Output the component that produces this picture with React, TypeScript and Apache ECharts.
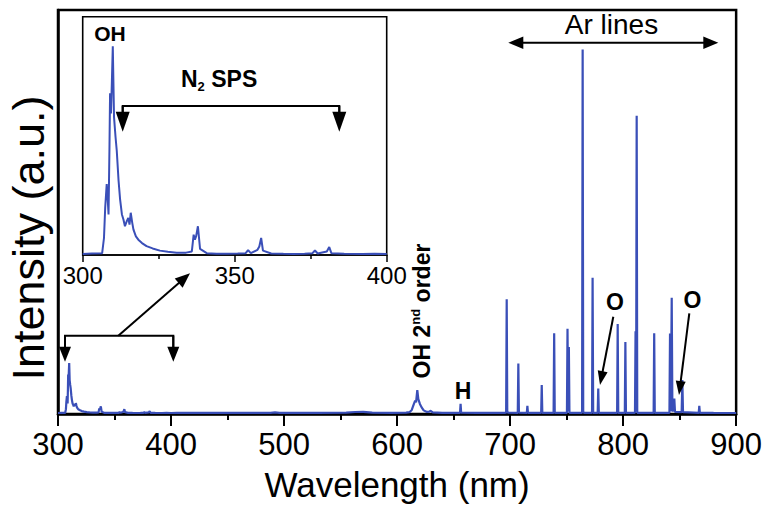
import React, { useEffect, useRef } from "react";
import * as echarts from "echarts";

// Emission spectrum: [wavelength (nm), intensity (a.u.)]
const uvBand: [number, number][] = [
  [300, 0.25], [303, 0.28], [306.4, 0.3], [307.0, 1.2], [307.4, 3.0], [307.9, 4.4], [308.2, 3.6],
  [308.5, 2.6], [308.8, 6.5], [309.0, 9.8], [309.3, 8.6], [309.6, 10.5], [309.9, 12.6],
  [310.3, 8.4], [310.8, 7.2], [311.2, 6.4], [311.8, 4.6], [312.3, 3.5], [312.9, 2.6],
  [313.4, 2.3], [313.9, 1.9], [314.5, 2.2], [315.0, 2.4], [315.4, 2.0], [315.8, 2.7],
  [316.3, 2.1], [316.7, 1.7], [317.5, 1.3], [318.3, 1.1], [319.5, 0.9], [321, 0.72],
  [323, 0.58], [325.4, 0.45], [328, 0.38], [330.9, 0.33], [334, 0.33], [335.9, 0.4],
  [336.5, 1.4], [336.9, 1.1], [337.3, 1.3], [337.9, 1.9], [338.6, 0.55], [340.8, 0.3],
  [344, 0.27], [347.4, 0.26], [351, 0.28], [353.6, 0.3], [354.4, 0.48], [355.3, 0.3],
  [357.5, 0.5], [358.1, 0.7], [358.7, 1.2], [359.3, 0.45], [362, 0.28], [366, 0.26],
  [369.3, 0.25], [373, 0.27], [375.6, 0.3], [376.4, 0.46], [377.3, 0.28], [380.3, 0.4],
  [381.1, 0.66], [381.8, 0.3], [386, 0.26], [392, 0.25], [396, 0.27], [400, 0.25],
];

const visibleBand: [number, number][] = [
  [405, 0.26], [430, 0.28], [460, 0.26], [488, 0.3], [492, 0.38], [496, 0.28], [530, 0.27],
  [555, 0.32], [563, 0.5], [570, 0.52], [578, 0.35], [595, 0.3], [608, 0.32], [611, 0.45],
  [613, 1.0], [614.9, 2.5], [616.0, 3.3], [616.8, 2.9], [617.9, 5.9], [618.8, 3.7],
  [620.2, 2.5], [621.6, 1.7], [623.5, 0.9], [626, 0.55], [628.5, 0.6], [629.7, 0.8],
  [631.5, 0.4], [640, 0.3], [650, 0.28], [655.7, 0.3], [656.2, 2.5], [656.7, 0.32],
  [670, 0.28], [686, 0.3], [695.8, 0.3],
];

const arBand: [number, number][] = [
  [696.5, 0.35], [697.0, 28.4], [697.5, 0.5], [698.5, 0.32],
  [706.8, 0.3], [707.3, 12.5], [707.8, 0.32],
  [714.8, 0.3], [715.3, 2.0], [715.8, 0.3],
  [727.5, 0.3], [728.0, 7.2], [728.5, 0.3],
  [738.5, 0.3], [739.0, 20.0], [739.5, 0.3],
  [750.3, 0.3], [750.8, 21.1], [751.4, 0.7], [752.0, 16.6], [752.5, 0.3],
  [763.7, 0.3], [764.2, 90.2], [764.7, 0.6], [765.3, 0.3],
  [772.5, 0.3], [773.0, 33.7], [773.5, 0.3],
  [777.5, 0.3], [778.0, 6.3], [778.5, 0.3],
  [794.7, 0.3], [795.2, 22.3], [795.7, 0.3],
  [801.5, 0.3], [802.0, 17.8], [802.5, 0.3],
  [810.5, 0.3], [811.0, 20.5], [811.5, 0.9], [812.0, 73.8], [812.5, 0.3],
  [827.0, 0.3], [827.5, 20.0], [828.0, 0.3],
  [841.0, 0.3], [841.5, 19.9], [842.2, 0.7], [843.0, 28.8], [843.6, 0.6],
  [844.8, 1.5], [845.3, 3.8], [845.9, 0.5],
  [851.8, 0.45], [852.4, 8.4], [853.0, 0.45],
  [866.9, 0.3], [867.4, 2.0], [867.9, 0.3],
  [880, 0.27], [890, 0.25], [900, 0.25],
];

const mainRange = [300, 900];
const insetRange = [300, 400];

const FONT = "Liberation Sans, Arial, sans-serif";
const LINE_COLOR = "#3a4fb8";

function arrow(x1: number, y1: number, x2: number, y2: number, headLen = 14, headHalf = 6, lw = 2) {
  const dx = x2 - x1;
  const dy = y2 - y1;
  const L = Math.hypot(dx, dy);
  const ux = dx / L;
  const uy = dy / L;
  const bx = x2 - ux * headLen;
  const by = y2 - uy * headLen;
  const px = -uy * headHalf;
  const py = ux * headHalf;
  return [
    { type: "line", z: 100, shape: { x1, y1, x2: bx + ux, y2: by + uy }, style: { stroke: "#000", lineWidth: lw } },
    {
      type: "polygon",
      z: 100,
      shape: { points: [[x2, y2], [bx + px, by + py], [bx - px, by - py]] },
      style: { fill: "#000" },
    },
  ];
}

function label(text: string, x: number, y: number, fontSize: number, bold = true) {
  return {
    type: "text",
    z: 100,
    x,
    y,
    style: {
      text,
      fontSize,
      fontWeight: bold ? "bold" : "normal",
      fontFamily: FONT,
      fill: "#000",
      align: "center",
      verticalAlign: "middle",
    },
  };
}

export default function App() {
  const ref = useRef<HTMLDivElement>(null);

  useEffect(() => {
    if (!ref.current) return;
    const chart = echarts.init(ref.current, null, { renderer: "svg" });

    const graphic: any[] = [
      // y-axis title
      {
        type: "text",
        z: 100,
        x: 28,
        y: 238,
        rotation: Math.PI / 2,
        style: {
          text: "Intensity (a.u.)",
          fontSize: 45,
          fontFamily: FONT,
          fill: "#000",
          align: "center",
          verticalAlign: "middle",
        },
      },
      // Ar lines
      label("Ar lines", 611.5, 24, 28, false),
      ...arrow(613, 42.7, 508.3, 42.7, 15, 6.3),
      ...arrow(613, 42.7, 718.3, 42.7, 15, 6.3),
      // inset OH
      label("OH", 110, 33, 21),
      // N2 SPS
      {
        type: "text",
        z: 100,
        x: 181,
        y: 80,
        style: {
          text: "{b|N}{s|2}{b| SPS}",
          fontFamily: FONT,
          verticalAlign: "middle",
          align: "left",
          rich: {
            b: { fontSize: 23, fontWeight: "bold", fontFamily: FONT, fill: "#000", lineHeight: 26, verticalAlign: "top" },
            s: { fontSize: 13, fontWeight: "bold", fontFamily: FONT, fill: "#000", lineHeight: 26, verticalAlign: "bottom", padding: [8, 0, 0, 0] },
          },
        },
      },
      {
        type: "polyline",
        z: 100,
        shape: { points: [[122.7, 114], [122.7, 106], [339.3, 106], [339.3, 114]] },
        style: { stroke: "#000", lineWidth: 2, fill: "none" },
      },
      ...arrow(122.7, 106, 122.7, 131.7, 20, 7),
      ...arrow(339.3, 106, 339.3, 131.7, 20, 7),
      // main bracket for 300-400 region
      {
        type: "polyline",
        z: 100,
        shape: { points: [[65, 347], [65, 335.7], [173.3, 335.7], [173.3, 347]] },
        style: { stroke: "#000", lineWidth: 2, fill: "none" },
      },
      ...arrow(65, 335.7, 65, 361.7, 15, 6),
      ...arrow(173.3, 335.7, 173.3, 361.7, 15, 6),
      ...arrow(118.3, 335.7, 190, 273.3, 15, 6),
      // OH 2nd order
      {
        type: "text",
        z: 100,
        x: 421.5,
        y: 311,
        rotation: Math.PI / 2,
        style: {
          text: "{b|OH 2}{s|nd}{b| order}",
          fontFamily: FONT,
          align: "center",
          verticalAlign: "middle",
          rich: {
            b: { fontSize: 23, fontWeight: "bold", fontFamily: FONT, fill: "#000", lineHeight: 26 },
            s: { fontSize: 13, fontWeight: "bold", fontFamily: FONT, fill: "#000", lineHeight: 26, verticalAlign: "top", padding: [0, 0, 10, 0] },
          },
        },
      },
      // H
      label("H", 463, 391, 23),
      // O labels and arrows
      label("O", 615, 302, 23),
      ...arrow(613.3, 316.7, 600, 385, 14, 5),
      label("O", 692.5, 300, 23),
      ...arrow(689.3, 313.3, 679, 395, 14, 5),
    ];

    const option: any = {
      animation: false,
      backgroundColor: "#fff",
      textStyle: { fontFamily: FONT },
      grid: [
        { left: 58, right: 27, top: 10, bottom: 89, show: true, borderColor: "#000", borderWidth: 2.5 },
        {
          left: 82.7,
          top: 16.7,
          width: 304,
          height: 238.3,
          show: true,
          borderColor: "#000",
          borderWidth: 1.6,
          backgroundColor: "#fff",
          z: 5,
        },
      ],
      xAxis: [
        {
          gridIndex: 0,
          type: "value",
          min: mainRange[0],
          max: mainRange[1],
          interval: 100,
          name: "Wavelength (nm)",
          nameLocation: "middle",
          nameGap: 53,
          nameTextStyle: { fontSize: 35, color: "#000", fontFamily: FONT },
          axisLine: { show: true, lineStyle: { color: "#000", width: 2.5 } },
          axisTick: { show: true, inside: false, length: 12, lineStyle: { color: "#000", width: 2 } },
          minorTick: { show: true, splitNumber: 2, length: 6, lineStyle: { color: "#000", width: 2 } },
          axisLabel: { fontSize: 31, color: "#000", margin: 15, fontFamily: FONT },
          splitLine: { show: false },
          minorSplitLine: { show: false },
        },
        {
          gridIndex: 1,
          type: "value",
          min: insetRange[0],
          max: insetRange[1],
          interval: 50,
          axisLine: { show: true, lineStyle: { color: "#000", width: 1.6 } },
          axisTick: { show: true, inside: false, length: 7, lineStyle: { color: "#000", width: 1.5 } },
          minorTick: { show: true, splitNumber: 2, length: 4, lineStyle: { color: "#000", width: 1.5 } },
          axisLabel: { fontSize: 24, color: "#000", margin: 8, fontFamily: FONT },
          splitLine: { show: false },
          minorSplitLine: { show: false },
          z: 6,
        },
      ],
      yAxis: [
        {
          gridIndex: 0,
          type: "value",
          min: 0,
          max: 100,
          axisLine: { show: true, lineStyle: { color: "#000", width: 2.5 } },
          axisTick: { show: false },
          axisLabel: { show: false },
          splitLine: { show: false },
        },
        {
          gridIndex: 1,
          type: "value",
          min: 0.19,
          max: 14.35,
          axisLine: { show: false },
          axisTick: { show: false },
          axisLabel: { show: false },
          splitLine: { show: false },
        },
      ],
      series: [
        {
          type: "line",
          xAxisIndex: 0,
          yAxisIndex: 0,
          data: [...uvBand, ...visibleBand, ...arBand],
          showSymbol: false,
          symbol: "none",
          lineStyle: { color: LINE_COLOR, width: 2.2 },
          z: 3,
        },
        {
          type: "line",
          xAxisIndex: 1,
          yAxisIndex: 1,
          data: uvBand,
          showSymbol: false,
          symbol: "none",
          lineStyle: { color: LINE_COLOR, width: 2 },
          z: 7,
        },
      ],
      graphic,
    };

    chart.setOption(option);
    return () => chart.dispose();
  }, []);

  return (
    <div
      ref={ref}
      style={{ position: "absolute", left: 0, top: 0, width: 765, height: 507, background: "#fff" }}
    />
  );
}
